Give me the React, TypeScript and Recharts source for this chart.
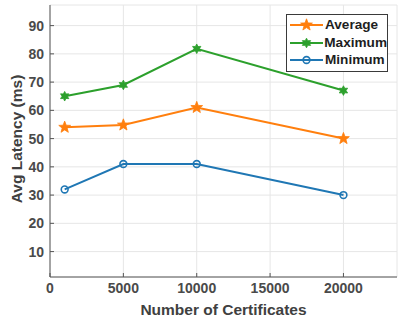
import React from 'react';
import {
  LineChart,
  Line,
  XAxis,
  YAxis,
  CartesianGrid,
} from 'recharts';

const certificates = [1000, 5000, 10000, 20000];
const averageLatency = [54, 54.8, 61, 50];
const maximumLatency = [65, 69, 81.8, 67];
const minimumLatency = [32, 41, 41, 30];

const xTicks = [0, 5000, 10000, 15000, 20000];
const yTicks = [10, 20, 30, 40, 50, 60, 70, 80, 90];

const FONT = '"Liberation Sans", Arial, Helvetica, sans-serif';
const AXIS_COLOR = '#555555';
const TICK_COLOR = '#4a4a4a';

type MarkerKind = 'star' | 'hexagram' | 'circle';

const SERIES: Array<{ key: string; name: string; color: string; marker: MarkerKind }> = [
  { key: 'average', name: 'Average', color: '#ff7f0e', marker: 'star' },
  { key: 'maximum', name: 'Maximum', color: '#2ca02c', marker: 'hexagram' },
  { key: 'minimum', name: 'Minimum', color: '#1f77b4', marker: 'circle' },
];

const data = certificates.map((c, i) => ({
  certificates: c,
  average: averageLatency[i],
  maximum: maximumLatency[i],
  minimum: minimumLatency[i],
}));

function starPath(cx: number, cy: number, points: number, outer: number, inner: number) {
  const pts: string[] = [];
  for (let i = 0; i < points * 2; i++) {
    const r = i % 2 === 0 ? outer : inner;
    const a = -Math.PI / 2 + (i * Math.PI) / points;
    pts.push(`${(cx + r * Math.cos(a)).toFixed(2)},${(cy + r * Math.sin(a)).toFixed(2)}`);
  }
  return `M${pts.join('L')}Z`;
}

function Marker({ kind, cx, cy, color }: { kind: MarkerKind; cx: number; cy: number; color: string }) {
  if (kind === 'star') {
    return <path d={starPath(cx, cy, 5, 6.2, 2.6)} fill={color} stroke={color} strokeWidth={0.8} />;
  }
  if (kind === 'hexagram') {
    return <path d={starPath(cx, cy, 6, 4.8, 2.6)} fill={color} stroke={color} strokeWidth={0.8} />;
  }
  return <circle cx={cx} cy={cy} r={3.4} fill="none" stroke={color} strokeWidth={1.6} />;
}

function YTick(props: any) {
  const { x, y, payload } = props;
  return (
    <g>
      <line x1={x + 6} x2={x + 10} y1={y} y2={y} stroke={AXIS_COLOR} />
      <text x={x} y={y} dy={5} textAnchor="end" fill={TICK_COLOR} fontSize={14} fontWeight="bold" fontFamily={FONT}>
        {payload.value}
      </text>
    </g>
  );
}

function XTick(props: any) {
  const { x, y, payload } = props;
  return (
    <g>
      <line x1={x} x2={x} y1={y - 4} y2={y - 8} stroke={AXIS_COLOR} />
      <text x={x} y={y + 12} textAnchor="middle" fill={TICK_COLOR} fontSize={14} fontWeight="bold" fontFamily={FONT}>
        {payload.value}
      </text>
    </g>
  );
}

function TopTick(props: any) {
  const { x, y } = props;
  return <line x1={x} x2={x} y1={y} y2={y + 4} stroke={AXIS_COLOR} />;
}

function RightTick(props: any) {
  const { x, y } = props;
  return <line x1={x} x2={x - 4} y1={y} y2={y} stroke={AXIS_COLOR} />;
}

function LegendBox() {
  return (
    <div
      style={{
        position: 'absolute',
        top: 14,
        left: 286,
        border: '1px solid #3a3a3a',
        background: '#fff',
        width: 100,
        padding: '1px 0 2px 0',
        fontFamily: FONT,
      }}
    >
      {SERIES.map((s) => (
        <div key={s.key} style={{ display: 'flex', alignItems: 'center', height: 17.8 }}>
          <svg width={38} height={14} style={{ display: 'block' }}>
            <line x1={3} x2={36} y1={7} y2={7} stroke={s.color} strokeWidth={2} />
            <Marker kind={s.marker} cx={19.5} cy={7} color={s.color} />
          </svg>
          <span style={{ fontSize: 13.6, fontWeight: 'bold', color: '#1e1e1e', lineHeight: '14px' }}>{s.name}</span>
        </div>
      ))}
    </div>
  );
}

export default function App() {
  return (
    <div style={{ position: 'absolute', left: 0, top: 0, width: 398, height: 325, background: '#fff' }}>
      <LineChart width={398} height={325} data={data} margin={{ top: 5, right: 1, bottom: 0, left: 0 }}>
        <CartesianGrid xAxisId="b" yAxisId="l" stroke="#e6e6e6" strokeWidth={1} />
        <XAxis
          xAxisId="b"
          dataKey="certificates"
          type="number"
          domain={[0, 23650]}
          ticks={xTicks}
          height={48}
          tickLine={false}
          tickSize={0}
          tickMargin={4}
          stroke={AXIS_COLOR}
          tick={<XTick />}
          allowDataOverflow
          label={{
            content: ({ viewBox }: any) => (
              <text
                x={viewBox.x + viewBox.width / 2}
                y={viewBox.y + 38}
                textAnchor="middle"
                fill="#404040"
                fontSize={15.5}
                fontWeight="bold"
                fontFamily={FONT}
              >
                Number of Certificates
              </text>
            ),
          }}
        />
        <XAxis
          xAxisId="t"
          orientation="top"
          dataKey="certificates"
          type="number"
          domain={[0, 23650]}
          ticks={xTicks}
          height={0}
          tickLine={false}
          tickSize={0}
          stroke={AXIS_COLOR}
          tick={<TopTick />}
          allowDataOverflow
        />
        <YAxis
          yAxisId="l"
          type="number"
          domain={[1, 97.3]}
          ticks={yTicks}
          width={50}
          tickLine={false}
          tickSize={0}
          tickMargin={6}
          stroke={AXIS_COLOR}
          tick={<YTick />}
          allowDataOverflow
          label={{
            content: ({ viewBox }: any) => {
              const cx = viewBox.x + 21.5;
              const cy = viewBox.y + viewBox.height / 2 - 2;
              return (
                <text
                  x={cx}
                  y={cy}
                  transform={`rotate(-90, ${cx}, ${cy})`}
                  textAnchor="middle"
                  fill="#404040"
                  fontSize={15.5}
                  fontWeight="bold"
                  fontFamily={FONT}
                >
                  Avg Latency (ms)
                </text>
              );
            },
          }}
        />
        <YAxis
          yAxisId="r"
          orientation="right"
          type="number"
          domain={[1, 97.3]}
          ticks={yTicks}
          width={0}
          tickLine={false}
          tickSize={0}
          stroke={AXIS_COLOR}
          tick={<RightTick />}
          allowDataOverflow
        />
        {SERIES.map((s) => (
          <Line
            key={s.key}
            xAxisId="b"
            yAxisId="l"
            dataKey={s.key}
            name={s.name}
            type="linear"
            stroke={s.color}
            strokeWidth={2}
            isAnimationActive={false}
            dot={(p: any) => <Marker key={`${s.key}-${p.index}`} kind={s.marker} cx={p.cx} cy={p.cy} color={s.color} />}
            activeDot={false}
          />
        ))}
      </LineChart>
      <LegendBox />
    </div>
  );
}
